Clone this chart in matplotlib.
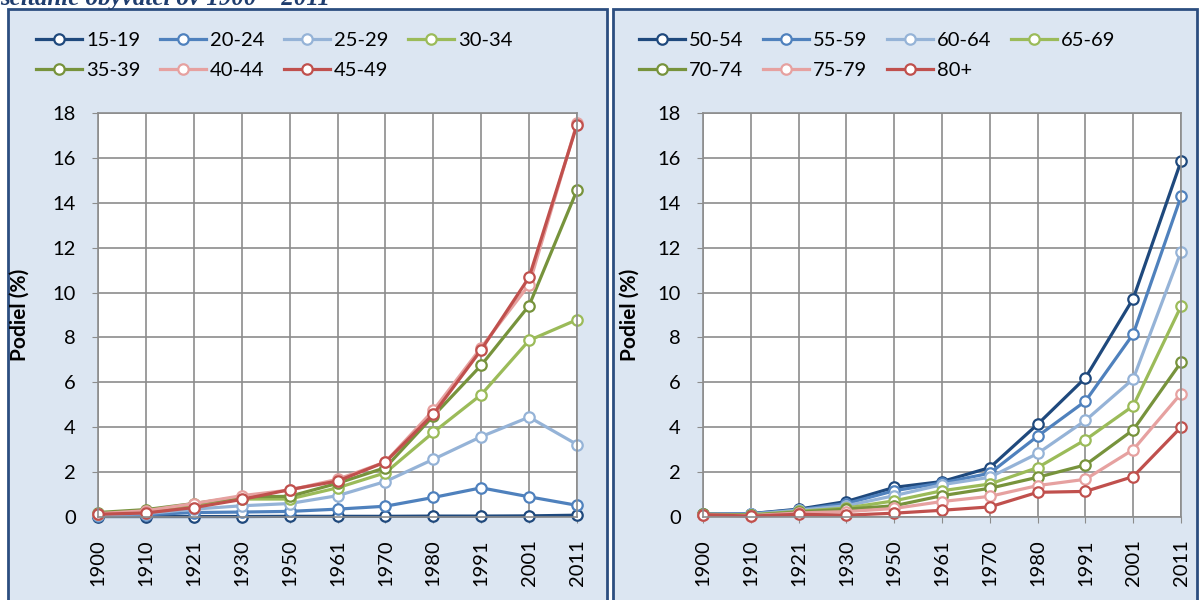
import matplotlib
matplotlib.use("Agg")
import matplotlib.pyplot as plt
from matplotlib.patches import Rectangle

plt.rcParams['font.family'] = ['Lato', 'DejaVu Sans']

# census years (categories)
years = ['1900', '1910', '1921', '1930', '1950', '1961', '1970', '1980', '1991', '2001', '2011']

# left panel: younger age groups, share (%)
left_groups = ['15-19', '20-24', '25-29', '30-34', '35-39', '40-44', '45-49']
left_values = [
    [0.02, 0.02, 0.02, 0.02, 0.03, 0.03, 0.03, 0.04, 0.04, 0.05, 0.08],
    [0.05, 0.10, 0.20, 0.22, 0.25, 0.35, 0.48, 0.87, 1.30, 0.90, 0.52],
    [0.10, 0.15, 0.35, 0.50, 0.60, 0.95, 1.58, 2.57, 3.58, 4.45, 3.23],
    [0.15, 0.25, 0.50, 0.80, 0.80, 1.30, 1.97, 3.77, 5.45, 7.87, 8.79],
    [0.20, 0.33, 0.60, 0.90, 0.92, 1.50, 2.20, 4.50, 6.76, 9.42, 14.56],
    [0.15, 0.28, 0.60, 0.95, 1.20, 1.68, 2.45, 4.75, 7.55, 10.35, 17.55],
    [0.12, 0.18, 0.42, 0.78, 1.22, 1.60, 2.45, 4.58, 7.45, 10.68, 17.47],
]

# right panel: older age groups, share (%)
right_groups = ['50-54', '55-59', '60-64', '65-69', '70-74', '75-79', '80+']
right_values = [
    [0.15, 0.15, 0.35, 0.69, 1.32, 1.58, 2.20, 4.13, 6.20, 9.73, 15.85],
    [0.14, 0.15, 0.32, 0.60, 1.17, 1.52, 1.95, 3.60, 5.16, 8.15, 14.28],
    [0.13, 0.12, 0.30, 0.50, 0.95, 1.44, 1.77, 2.83, 4.30, 6.15, 11.81],
    [0.12, 0.10, 0.25, 0.40, 0.72, 1.17, 1.47, 2.20, 3.44, 4.95, 9.39],
    [0.12, 0.08, 0.22, 0.35, 0.50, 0.95, 1.28, 1.77, 2.32, 3.88, 6.89],
    [0.10, 0.06, 0.18, 0.24, 0.38, 0.69, 0.92, 1.40, 1.68, 3.00, 5.50],
    [0.10, 0.04, 0.12, 0.08, 0.17, 0.30, 0.45, 1.10, 1.14, 1.80, 4.00],
]

colors = ['#1F497D', '#4F81BD', '#95B3D7', '#9BBB59', '#77933C', '#E6A1A0', '#C0504D']

W, H = 1200, 600
fig = plt.figure(figsize=(12, 6), dpi=100)
fig.patch.set_facecolor('white')

# background axes holding the two light-blue panels
bg = fig.add_axes([0, 0, 1, 1], zorder=-10)
bg.set_xlim(0, W)
bg.set_ylim(H, 0)
bg.axis('off')
for x0, x1 in [(8, 607), (613, 1197)]:
    bg.add_patch(Rectangle((x0, 9), x1 - x0, H, facecolor='#DCE6F2',
                           edgecolor='#2C4E80', linewidth=2))

# clipped title from the page above
fig.text(0.0, 1 - 5 / H, 'sčítanie obyvateľov 1900 – 2011', family='Liberation Serif',
         style='italic', weight='bold', fontsize=18, color='#1F3D6E',
         ha='left', va='baseline')

grid_col = '#8C8C8C'


def draw_panel(rect, groups, values, leg_x, ylab_x):
    ax = fig.add_axes(rect)
    ax.set_facecolor('white')
    x = list(range(len(years)))
    handles = []
    for name, vals, col in zip(groups, values, colors):
        h, = ax.plot(x, vals, color=col, lw=2.3, marker='o', ms=7.5,
                     mfc='white', mec=col, mew=1.6, label=name, clip_on=False)
        handles.append(h)
    ax.set_xlim(0, len(years) - 1)
    ax.set_ylim(0, 18)
    ax.set_xticks(x)
    ax.set_xticklabels(years, rotation=90, fontsize=14.5)
    ax.set_yticks(range(0, 19, 2))
    ax.tick_params(axis='y', labelsize=14.5, length=4, color=grid_col, pad=12)
    ax.tick_params(axis='x', length=4, color=grid_col, pad=12)
    ax.grid(True, color=grid_col, lw=1.2)
    ax.set_axisbelow(True)
    for s in ax.spines.values():
        s.set_color(grid_col)
        s.set_linewidth(1.2)
    ax.set_ylabel('Podiel (%)', fontsize=15, weight='bold')
    ax.yaxis.set_label_coords(ylab_x, 0.5)
    # legend is filled row by row, as in the original
    order = [0, 4, 1, 5, 2, 6, 3]
    fig.legend(handles=[handles[i] for i in order], loc='upper left',
               bbox_to_anchor=(leg_x / W, 1 - 32 / H),
               ncol=4, frameon=False, fontsize=14.5, borderpad=0, borderaxespad=0,
               handlelength=2.3, handletextpad=0.2, columnspacing=0.95, labelspacing=0.62)
    return ax


axes_y = 1 - 517 / H
axes_h = 404 / H
draw_panel([98 / W, axes_y, 479 / W, axes_h], left_groups, left_values, 36, -0.142)
draw_panel([703 / W, axes_y, 478 / W, axes_h], right_groups, right_values, 639, -0.132)

fig.savefig('out.png', dpi=100)
